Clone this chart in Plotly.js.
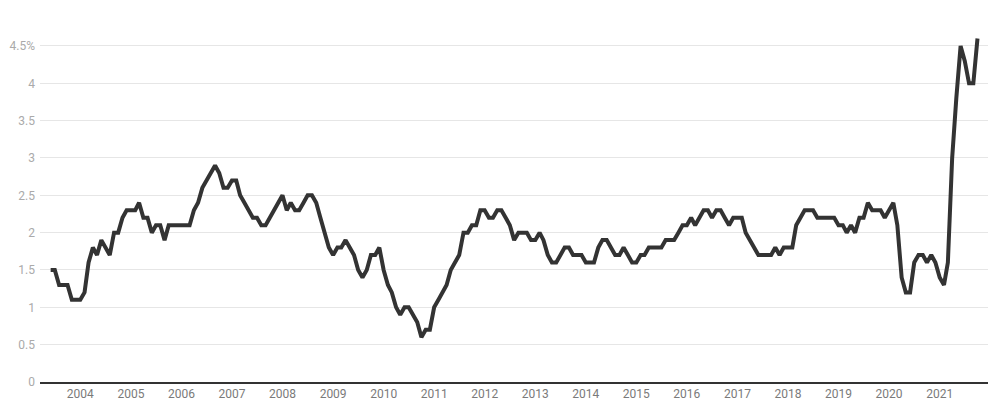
<!DOCTYPE html>
<html>
<head>
<meta charset="utf-8">
<script src="https://cdn.plot.ly/plotly-3.0.1.min.js"></script>
<style>
  html, body { margin: 0; padding: 0; background: #ffffff; }
  #chart { width: 1000px; height: 412px; }
</style>
</head>
<body>
<div id="chart"></div>
<script>
// Monthly values, June 2003 through October 2021 (percent)
const startYear = 2003;
const startMonth = 6;
const y2003 = [1.5, 1.5, 1.3, 1.3, 1.3, 1.1, 1.1];
const y2004 = [1.1, 1.2, 1.6, 1.8, 1.7, 1.9, 1.8, 1.7, 2.0, 2.0, 2.2, 2.3];
const y2005 = [2.3, 2.3, 2.4, 2.2, 2.2, 2.0, 2.1, 2.1, 1.9, 2.1, 2.1, 2.1];
const y2006 = [2.1, 2.1, 2.1, 2.3, 2.4, 2.6, 2.7, 2.8, 2.9, 2.8, 2.6, 2.6];
const y2007 = [2.7, 2.7, 2.5, 2.4, 2.3, 2.2, 2.2, 2.1, 2.1, 2.2, 2.3, 2.4];
const y2008 = [2.5, 2.3, 2.4, 2.3, 2.3, 2.4, 2.5, 2.5, 2.4, 2.2, 2.0, 1.8];
const y2009 = [1.7, 1.8, 1.8, 1.9, 1.8, 1.7, 1.5, 1.4, 1.5, 1.7, 1.7, 1.8];
const y2010 = [1.5, 1.3, 1.2, 1.0, 0.9, 1.0, 1.0, 0.9, 0.8, 0.6, 0.7, 0.7];
const y2011 = [1.0, 1.1, 1.2, 1.3, 1.5, 1.6, 1.7, 2.0, 2.0, 2.1, 2.1, 2.3];
const y2012 = [2.3, 2.2, 2.2, 2.3, 2.3, 2.2, 2.1, 1.9, 2.0, 2.0, 2.0, 1.9];
const y2013 = [1.9, 2.0, 1.9, 1.7, 1.6, 1.6, 1.7, 1.8, 1.8, 1.7, 1.7, 1.7];
const y2014 = [1.6, 1.6, 1.6, 1.8, 1.9, 1.9, 1.8, 1.7, 1.7, 1.8, 1.7, 1.6];
const y2015 = [1.6, 1.7, 1.7, 1.8, 1.8, 1.8, 1.8, 1.9, 1.9, 1.9, 2.0, 2.1];
const y2016 = [2.1, 2.2, 2.1, 2.2, 2.3, 2.3, 2.2, 2.3, 2.3, 2.2, 2.1, 2.2];
const y2017 = [2.2, 2.2, 2.0, 1.9, 1.8, 1.7, 1.7, 1.7, 1.7, 1.8, 1.7, 1.8];
const y2018 = [1.8, 1.8, 2.1, 2.2, 2.3, 2.3, 2.3, 2.2, 2.2, 2.2, 2.2, 2.2];
const y2019 = [2.1, 2.1, 2.0, 2.1, 2.0, 2.2, 2.2, 2.4, 2.3, 2.3, 2.3, 2.2];
const y2020 = [2.3, 2.4, 2.1, 1.4, 1.2, 1.2, 1.6, 1.7, 1.7, 1.6, 1.7, 1.6];
const y2021 = [1.4, 1.3, 1.6, 3.0, 3.8, 4.5, 4.3, 4.0, 4.0, 4.6];

const yTickVals = [0, 0.5, 1, 1.5, 2, 2.5, 3, 3.5, 4, 4.5];
const yTickText = ["0", "0.5", "1", "1.5", "2", "2.5", "3", "3.5", "4", "4.5%"];

const values = [].concat(y2003, y2004, y2005, y2006, y2007, y2008, y2009, y2010,
  y2011, y2012, y2013, y2014, y2015, y2016, y2017, y2018, y2019, y2020, y2021);

const dates = values.map(function (_, i) {
  const m0 = (startMonth - 1) + i;
  const yr = startYear + Math.floor(m0 / 12);
  const mo = (m0 % 12) + 1;
  return yr + "-" + String(mo).padStart(2, "0") + "-01";
});

const trace = {
  x: dates,
  y: values,
  type: "scatter",
  mode: "lines",
  line: { color: "#333333", width: 4, shape: "linear" },
  hoverinfo: "skip"
};

const layout = {
  width: 1000,
  height: 412,
  margin: { l: 40, r: 12, t: 30, b: 30, pad: 0 },
  paper_bgcolor: "#ffffff",
  plot_bgcolor: "#ffffff",
  showlegend: false,
  font: { family: "Roboto, 'Noto Sans', sans-serif", size: 12, color: "#888888" },
  xaxis: {
    type: "date",
    range: ["2003-03-16", "2021-12-16"],
    tick0: "2004-01-01",
    dtick: "M12",
    tickformat: "%Y",
    ticks: "",
    showgrid: false,
    zeroline: false,
    showline: true,
    linecolor: "#333333",
    linewidth: 1.5,
    tickfont: { family: "Roboto, sans-serif", size: 12, color: "#7a7a7a" },
    fixedrange: true
  },
  yaxis: {
    range: [0, 4.714],
    tickvals: yTickVals,
    ticktext: yTickText,
    ticks: "",
    ticklabelstandoff: 4,
    showgrid: true,
    gridcolor: "#e6e6e6",
    gridwidth: 1,
    zeroline: false,
    showline: false,
    tickfont: { family: "Roboto, sans-serif", size: 12, color: "#aaaaaa" },
    fixedrange: true
  }
};

Plotly.newPlot("chart", [trace], layout, { displayModeBar: false, staticPlot: true });
</script>
</body>
</html>
